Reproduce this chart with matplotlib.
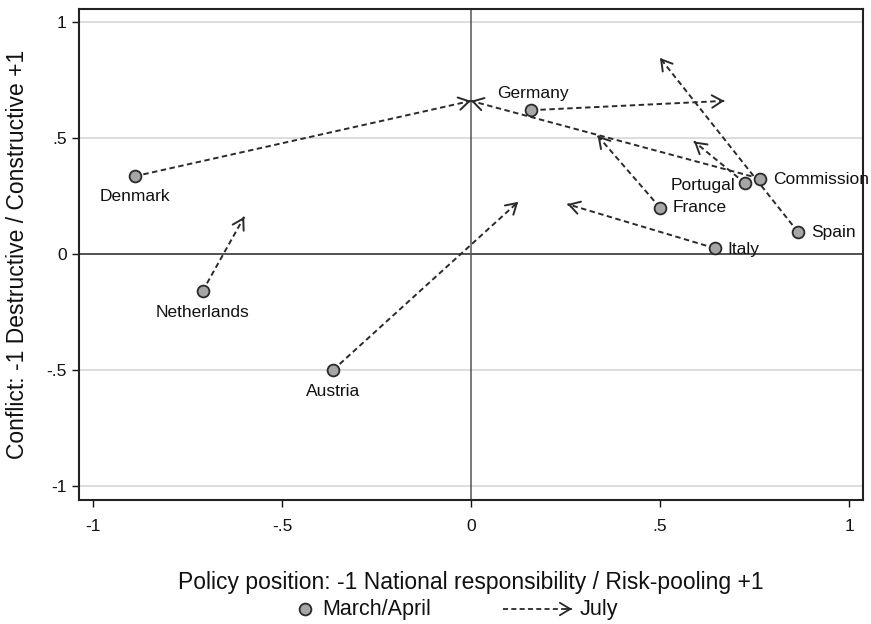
import matplotlib
matplotlib.use("Agg")
import matplotlib.pyplot as plt
from matplotlib.lines import Line2D
from matplotlib.patches import FancyArrowPatch

plt.rcParams['font.family'] = ['Liberation Sans', 'DejaVu Sans']

# positions
countries = ['Denmark', 'Netherlands', 'Austria', 'Germany', 'France',
             'Italy', 'Portugal', 'Commission', 'Spain']
march_x = [-0.89, -0.71, -0.365, 0.16, 0.50, 0.645, 0.725, 0.765, 0.865]
march_y = [0.335, -0.16, -0.50, 0.62, 0.20, 0.025, 0.305, 0.325, 0.095]
july_x = [0.0, -0.60, 0.125, 0.67, 0.335, 0.255, 0.59, 0.0, 0.50]
july_y = [0.66, 0.16, 0.225, 0.66, 0.51, 0.215, 0.485, 0.66, 0.845]

# label offsets in pixels (dx, dy, ha)
label_pos = {
    'Denmark': (0, -20, 'center'),
    'Netherlands': (0, -21, 'center'),
    'Austria': (0, -21, 'center'),
    'Germany': (1, 17, 'center'),
    'France': (13, 0, 'left'),
    'Italy': (13, -1, 'left'),
    'Portugal': (-10, -2, 'right'),
    'Commission': (13, -1, 'left'),
    'Spain': (13, -1, 'left'),
}

xticks = [-1, -0.5, 0, 0.5, 1]
xticklabels = ['-1', '-.5', '0', '.5', '1']
yticks = [-1, -0.5, 0, 0.5, 1]
yticklabels = ['-1', '-.5', '0', '.5', '1']

dark = '#2a2a2a'
head_style = '->,head_length=0.75,head_width=0.45'

fig = plt.figure(figsize=(8.71, 6.24), dpi=100)
ax = fig.add_axes([79 / 871, 1 - 500 / 624, 784 / 871, 491 / 624])
ax.set_xlim(-1.037, 1.037)
ax.set_ylim(-1.06, 1.056)

for y in [-1, -0.5, 0.5, 1]:
    ax.axhline(y, color='#dddddd', lw=1.4, zorder=0)
ax.axhline(0, color='#222222', lw=1.1, zorder=1)
ax.axvline(0, color='#555555', lw=1.1, zorder=1)

for x0, y0, x1, y1 in zip(march_x, march_y, july_x, july_y):
    ax.plot([x0, x1], [y0, y1], color=dark, lw=1.4, dashes=[2.8, 1.8], zorder=2)
    dx, dy = x1 - x0, y1 - y0
    ax.annotate('', xy=(x1, y1), xytext=(x1 - dx * 0.01, y1 - dy * 0.01),
                arrowprops=dict(arrowstyle=head_style, color=dark, lw=1.4,
                                shrinkA=0, shrinkB=0), zorder=3)

ax.plot(march_x, march_y, 'o', ms=8.5, mfc='#a6a6a6', mec=dark, mew=1.3,
        ls='none', zorder=4)

for name, x, y in zip(countries, march_x, march_y):
    ox, oy, ha = label_pos[name]
    ax.annotate(name, (x, y), xytext=(ox, oy), textcoords='offset pixels',
                ha=ha, va='center', fontsize=12.5, color='#111111', zorder=5)

ax.set_xticks(xticks)
ax.set_xticklabels(xticklabels)
ax.set_yticks(yticks)
ax.set_yticklabels(yticklabels)
ax.tick_params(direction='out', length=5, width=1.0, labelsize=12.5, colors='#111111')
ax.tick_params(axis='x', pad=9)
ax.tick_params(axis='y', pad=4)
for sp in ax.spines.values():
    sp.set_color('#222222')
    sp.set_linewidth(1.5)

ax.set_xlabel('Policy position: -1 National responsibility / Risk-pooling +1',
              fontsize=16.5, labelpad=26, color='#111111')
ax.set_ylabel('Conflict: -1 Destructive / Constructive +1',
              fontsize=16.5, labelpad=12, color='#111111')

# legend drawn by hand
ly = 1 - 609 / 624
fig.add_artist(Line2D([305 / 871], [ly], marker='o', ms=8.5, mfc='#a6a6a6',
                      mec=dark, mew=1.3, transform=fig.transFigure))
fig.text(322 / 871, ly, 'March/April', fontsize=15.5, va='center', color='#111111')
fig.add_artist(Line2D([503 / 871, 572 / 871], [ly, ly], color=dark, lw=1.3,
                      dashes=[2.8, 1.8], transform=fig.transFigure))
fig.add_artist(FancyArrowPatch((566 / 871, ly), (572 / 871, ly), arrowstyle=head_style,
                               color=dark, lw=1.3, mutation_scale=10,
                               transform=fig.transFigure, shrinkA=0, shrinkB=0))
fig.text(580 / 871, ly, 'July', fontsize=15.5, va='center', color='#111111')

fig.savefig('out.png', dpi=100, facecolor='white')
